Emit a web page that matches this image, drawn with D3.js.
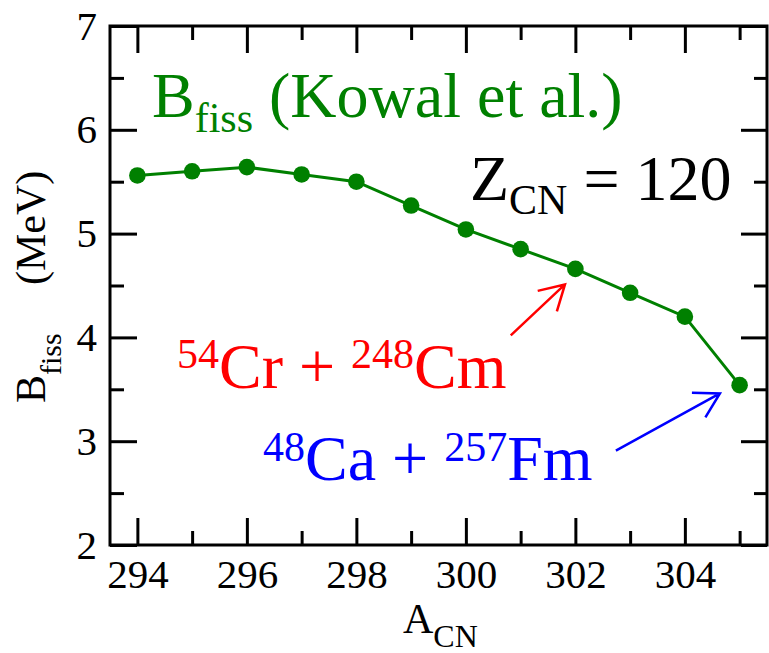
<!DOCTYPE html>
<html>
<head>
<meta charset="utf-8">
<script src="https://cdn.jsdelivr.net/npm/d3@7"></script>
<style>
body { margin: 0; background: #fff; }
svg text { font-family: "Liberation Serif", "Times New Roman", serif; white-space: pre; }
</style>
</head>
<body>
<script>
// fission barrier vs compound nucleus mass, Z = 120
var massNumbers = [294, 295, 296, 297, 298, 299, 300, 301, 302, 303, 304, 305];
var fissBarrier = [5.56, 5.60, 5.64, 5.57, 5.50, 5.27, 5.04, 4.85, 4.66, 4.43, 4.20, 3.54];

var xMajorTicks = [294, 296, 298, 300, 302, 304];
var xMinorTicks = [295, 297, 299, 301, 303, 305];
var yMajorTicks = [2, 3, 4, 5, 6, 7];
var yMinorTicks = [2.5, 3.5, 4.5, 5.5, 6.5];

// arrows in data units: [fromA, fromB, toA, toB]
var redArrow = [300.82, 4.02, 301.81, 4.51];
var blueArrow = [302.74, 2.91, 304.64, 3.46];

var width = 769, height = 653;
var plotLeft = 110, plotRight = 767, plotTop = 26, plotBottom = 545;

var svg = d3.select('body').append('svg')
  .attr('width', width)
  .attr('height', height);

var x = d3.scaleLinear().domain([293.5, 305.5]).range([plotLeft, plotRight]);
var y = d3.scaleLinear().domain([2, 7]).range([plotBottom, plotTop]);

function styleAxis(g) {
  g.select('.domain').remove();
  g.attr('font-family', null).attr('font-size', 41);
  g.selectAll('line').attr('stroke', '#000').attr('stroke-width', 3);
  g.selectAll('text').attr('fill', '#000');
}

// major / minor ticks on all four sides, pointing inwards
svg.append('g').attr('transform', 'translate(0,' + plotBottom + ')')
  .call(d3.axisBottom(x).tickValues(xMajorTicks).tickSize(-27).tickPadding(14).tickFormat(d3.format('d')))
  .call(styleAxis);
svg.append('g').attr('transform', 'translate(0,' + plotBottom + ')')
  .call(d3.axisBottom(x).tickValues(xMinorTicks).tickSize(-14).tickFormat(''))
  .call(styleAxis);
svg.append('g').attr('transform', 'translate(0,' + plotTop + ')')
  .call(d3.axisTop(x).tickValues(xMajorTicks).tickSize(-27).tickFormat(''))
  .call(styleAxis);
svg.append('g').attr('transform', 'translate(0,' + plotTop + ')')
  .call(d3.axisTop(x).tickValues(xMinorTicks).tickSize(-14).tickFormat(''))
  .call(styleAxis);

svg.append('g').attr('transform', 'translate(' + plotLeft + ',0)')
  .call(d3.axisLeft(y).tickValues(yMajorTicks).tickSize(-27).tickPadding(13).tickFormat(d3.format('d')))
  .call(styleAxis);
svg.append('g').attr('transform', 'translate(' + plotLeft + ',0)')
  .call(d3.axisLeft(y).tickValues(yMinorTicks).tickSize(-14).tickFormat(''))
  .call(styleAxis);
svg.append('g').attr('transform', 'translate(' + plotRight + ',0)')
  .call(d3.axisRight(y).tickValues(yMajorTicks).tickSize(-26).tickFormat(''))
  .call(styleAxis);
svg.append('g').attr('transform', 'translate(' + plotRight + ',0)')
  .call(d3.axisRight(y).tickValues(yMinorTicks).tickSize(-13).tickFormat(''))
  .call(styleAxis);

svg.append('rect')
  .attr('x', plotLeft).attr('y', plotTop)
  .attr('width', plotRight - plotLeft).attr('height', plotBottom - plotTop)
  .attr('fill', 'none').attr('stroke', '#000').attr('stroke-width', 3);

// data
var pts = massNumbers.map(function(a, i) { return [a, fissBarrier[i]]; });

svg.append('path')
  .datum(pts)
  .attr('fill', 'none')
  .attr('stroke', '#008000')
  .attr('stroke-width', 3)
  .attr('d', d3.line().x(function(d) { return x(d[0]); }).y(function(d) { return y(d[1]); }));

svg.selectAll('circle.pt')
  .data(pts)
  .enter().append('circle')
  .attr('class', 'pt')
  .attr('cx', function(d) { return x(d[0]); })
  .attr('cy', function(d) { return y(d[1]); })
  .attr('r', 8.3)
  .attr('fill', '#008000');

// text with sub/superscripts
function richText(px, py, color, parts, transform) {
  var t = svg.append('text').attr('fill', color);
  if (transform) t.attr('transform', transform);
  else t.attr('x', px).attr('y', py);
  parts.forEach(function(p) {
    var s = t.append('tspan').attr('font-size', p.size).text(p.t);
    if (p.dy) s.attr('dy', p.dy);
    if (p.x != null) s.attr('x', p.x);
  });
  return t;
}

richText(152, 117, '#008000', [
  { t: 'B', size: 64 },
  { t: 'fiss', size: 42, dy: 15 },
  { t: ' (Kowal et al.)', size: 64, dy: -15 }
]);

richText(470, 200, '#000', [
  { t: 'Z', size: 64 },
  { t: 'CN', size: 42, dy: 14 },
  { t: ' = 120', size: 64, dy: -14 }
]);

richText(177, 388, '#ff0000', [
  { t: '54', size: 42, dy: -20 },
  { t: 'Cr + ', size: 64, dy: 20 },
  { t: '248', size: 42, dy: -20 },
  { t: 'Cm', size: 64, dy: 20 }
]);

richText(263, 480, '#0000ff', [
  { t: '48', size: 42, dy: -19 },
  { t: 'Ca + ', size: 64, dy: 19 },
  { t: '257', size: 42, dy: -19 },
  { t: 'Fm', size: 64, dy: 19 }
]);

// axis titles
richText(403, 633, '#000', [
  { t: 'A', size: 42 },
  { t: 'CN', size: 32, dy: 14 }
]);

richText(0, 0, '#000', [
  { t: 'B', size: 42 },
  { t: 'fiss', size: 30, dy: 16 },
  { t: '(MeV)', size: 42, dy: -16, x: 118 }
], 'translate(45,403) rotate(-90)');

// arrows
function arrow(a, color) {
  var x1 = x(a[0]), y1 = y(a[1]), x2 = x(a[2]), y2 = y(a[3]);
  var ang = Math.atan2(y2 - y1, x2 - x1);
  var len = 28, spread = Math.PI / 6;
  var h1 = [x2 - len * Math.cos(ang - spread), y2 - len * Math.sin(ang - spread)];
  var h2 = [x2 - len * Math.cos(ang + spread), y2 - len * Math.sin(ang + spread)];
  svg.append('path')
    .attr('d', 'M' + x1 + ',' + y1 + 'L' + x2 + ',' + y2 +
      'M' + h1 + 'L' + x2 + ',' + y2 + 'L' + h2)
    .attr('fill', 'none')
    .attr('stroke', color)
    .attr('stroke-width', 2.5);
}
arrow(redArrow, '#ff0000');
arrow(blueArrow, '#0000ff');
</script>
</body>
</html>
